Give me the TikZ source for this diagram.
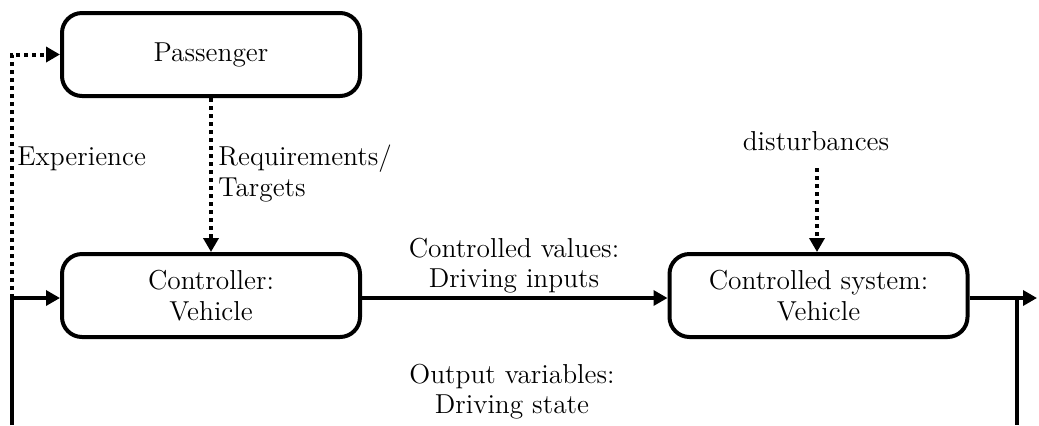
\documentclass[tikz,border=0pt]{standalone}
\usetikzlibrary{arrows.meta}
\begin{document}
\begin{tikzpicture}[x=0.5pt,y=-0.5pt,
  font=\fontsize{13.7}{15.5}\selectfont,
  block/.style={draw,line width=2pt,rounded corners=10pt,minimum width=149pt,minimum height=41.5pt,align=center,inner sep=0pt},
  flow/.style={line width=1.7pt,-{Triangle[length=7pt,width=7.5pt]}},
  plain/.style={line width=1.7pt},
  dotflow/.style={line width=2pt,dash pattern=on 2pt off 2pt,-{Triangle[length=7pt,width=7.5pt]}},
  lbl/.style={align=center,inner sep=0pt}]
\useasboundingbox (0,0) rectangle (1039,425);

% blocks
\node[block] (pass) at (211,54.5) {Passenger};
\node[block] (ctrl) at (211,295.5) {Controller:\\Vehicle};
\node[block] (sys) at (818.5,295.5) {Controlled system:\\Vehicle};

% loop coordinates
\coordinate (lb) at (12,425);
\coordinate (lt) at (12,298);
\coordinate (ro) at (1037,298);
\coordinate (rj) at (1017,298);
\coordinate (rb) at (1017,425);
\coordinate (dtop) at (817,168);

% connectors
\draw[flow] (lb) -- (lt) -- (lt -| ctrl.west);
\draw[flow] (ctrl.east |- lt) -- (sys.west |- lt);
\draw[flow] (sys.east |- lt) -- (ro);
\draw[plain] (rj) -- (rb);
\draw[dotflow] (lt) -- (12,54.5) -- (pass.west);
\draw[dotflow] (pass.south) -- (ctrl.north);
\draw[dotflow] (dtop) -- (dtop |- sys.north);

% labels
\node[lbl,anchor=base west] (exp) at (17,165) {Experience};
\node[lbl,anchor=base west] (req) at (218,165) {Requirements/};
\node[lbl,anchor=base west] (tgt) at (218,196) {Targets};
\node[lbl,anchor=base] (dist) at (816,150) {disturbances};
\node[lbl,anchor=base] (cv1) at (514,257) {Controlled values:};
\node[lbl,anchor=base] (cv2) at (514,287) {Driving inputs};
\node[lbl,anchor=base] (ov1) at (512,383) {Output variables:};
\node[lbl,anchor=base] (ov2) at (512,413) {Driving state};
\end{tikzpicture}
\end{document}
